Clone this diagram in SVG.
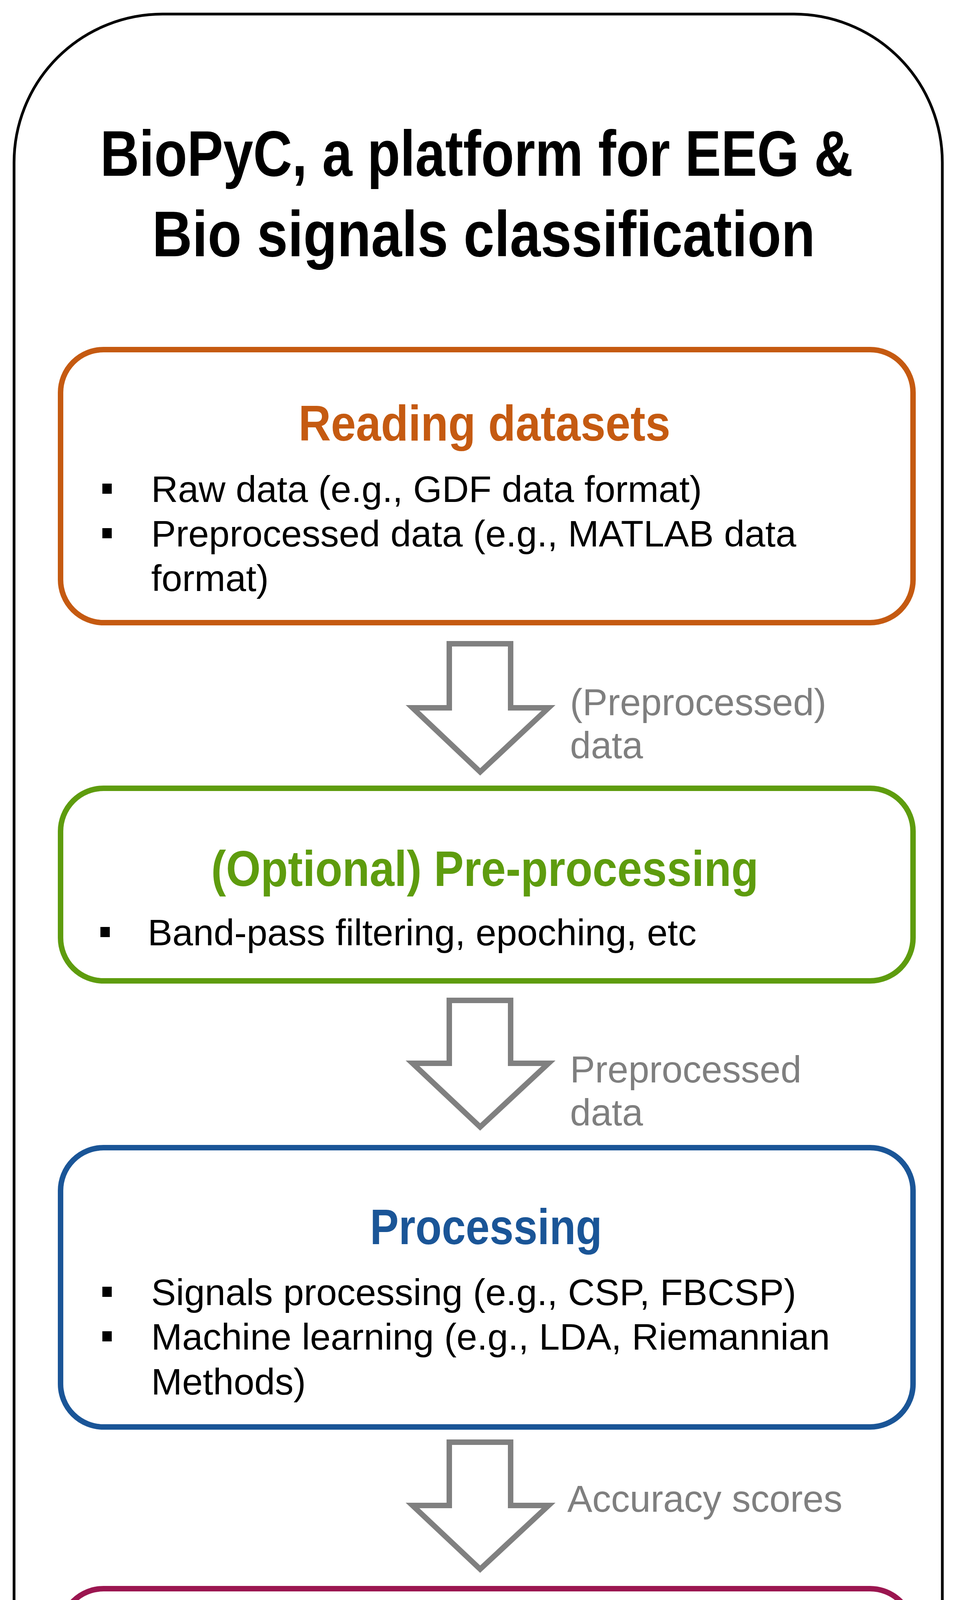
<svg xmlns="http://www.w3.org/2000/svg" width="2447" height="5120" viewBox="0 0 2447 5120">
<style>
.t{font-family:"Liberation Sans",Arial,sans-serif;font-weight:bold;}
.h{font-family:"Liberation Sans",Arial,sans-serif;font-weight:bold;font-size:128px;text-anchor:middle;}
.b{font-family:"Liberation Sans",Arial,sans-serif;font-size:95px;fill:#000;}
.l{font-family:"Liberation Sans",Arial,sans-serif;font-size:96px;fill:#7f7f7f;}
.box{fill:#fff;stroke-width:14;}
.arr{fill:#fff;stroke:#808080;stroke-width:14;stroke-linejoin:miter;}
</style>
<rect width="2447" height="5120" fill="#fff"/>
<g id="frame">
<rect x="36" y="36" width="2376" height="5048" rx="380" ry="380" fill="#fff" stroke="#000" stroke-width="7"/>
<text class="t" x="1220" y="450" font-size="165" text-anchor="middle" textLength="1927" lengthAdjust="spacingAndGlyphs">BioPyC, a platform for EEG &amp;</text>
<text class="t" x="1238" y="656" font-size="165" text-anchor="middle" textLength="1697" lengthAdjust="spacingAndGlyphs">Bio signals classification</text>
</g>
<g id="connectors">
<path class="arr" d="M1150,1648 H1307 V1812 H1404 L1229,1976 L1056,1812 H1150 Z"/>
<path class="arr" d="M1150,2561 H1307 V2722 H1404 L1229,2885 L1056,2722 H1150 Z"/>
<path class="arr" d="M1150,3692 H1307 V3854 H1404 L1229,4017 L1056,3854 H1150 Z"/>
<text class="l" x="1459" y="1831">(Preprocessed)</text>
<text class="l" x="1459" y="1941">data</text>
<text class="l" x="1459" y="2771">Preprocessed</text>
<text class="l" x="1459" y="2881">data</text>
<text class="l" x="1452" y="3870">Accuracy scores</text>
</g>
<g id="reading">
<rect class="box" x="155" y="895" width="2182" height="699" rx="110" stroke="#C55A11"/>
<text class="h" x="1240" y="1128" fill="#C55A11" textLength="952" lengthAdjust="spacingAndGlyphs">Reading datasets</text>
<rect x="262" y="1238" width="24" height="26"/><text class="b" x="387" y="1285">Raw data (e.g., GDF data format)</text>
<rect x="262" y="1352" width="24" height="26"/><text class="b" x="387" y="1399">Preprocessed data (e.g., MATLAB data</text>
<text class="b" x="387" y="1513">format)</text>
</g>
<g id="preprocessing">
<rect class="box" x="155" y="2018" width="2182" height="493" rx="110" stroke="#5E9C0E"/>
<text class="h" x="1241" y="2268" fill="#5E9C0E" textLength="1401" lengthAdjust="spacingAndGlyphs">(Optional) Pre-processing</text>
<rect x="257" y="2373" width="24" height="26"/><text class="b" x="378" y="2420">Band-pass filtering, epoching, etc</text>
</g>
<g id="processing">
<rect class="box" x="155" y="2938" width="2182" height="715" rx="110" stroke="#1A5597"/>
<text class="h" x="1244" y="3185" fill="#1A5597" textLength="594" lengthAdjust="spacingAndGlyphs">Processing</text>
<rect x="262" y="3294" width="24" height="26"/><text class="b" x="387" y="3341">Signals processing (e.g., CSP, FBCSP)</text>
<rect x="262" y="3408" width="24" height="26"/><text class="b" x="387" y="3455">Machine learning (e.g., LDA, Riemannian</text>
<text class="b" x="387" y="3570">Methods)</text>
</g>
<g id="statistics">
<rect class="box" x="155" y="4067" width="2182" height="810" rx="110" stroke="#9B1650"/>
<text class="h" x="1242" y="4298" fill="#9B1650" textLength="1360" lengthAdjust="spacingAndGlyphs">Statistics &amp; Visualization</text>
<rect x="262" y="4405" width="24" height="26"/><text class="b" x="387" y="4452">Statistical tests to compare algorithms</text>
<text class="b" x="387" y="4565">(e.g., ANOVA, t-tests)</text>
<rect x="262" y="4631" width="24" height="26"/><text class="b" x="387" y="4678">Visualisation of classification</text>
<text class="b" x="387" y="4787">performances (e.g., boxplot, barplot)</text>
</g>
</svg>
